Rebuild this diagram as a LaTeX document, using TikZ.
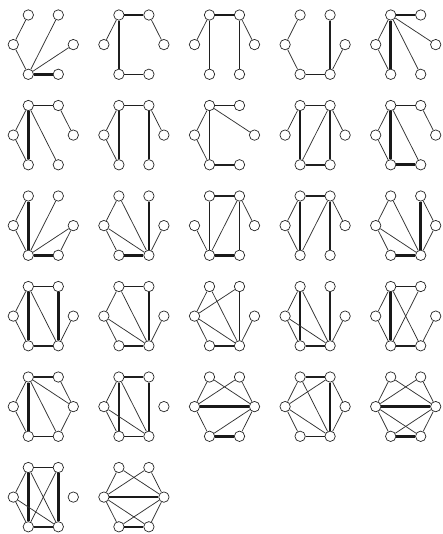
\documentclass[tikz,border=0pt]{standalone}
\begin{document}
\begin{tikzpicture}[x=1pt,y=-1pt,
  v/.style={circle,draw=black!85,fill=white,line width=0.7pt,minimum size=10.4pt,inner sep=0pt},
  tn/.style={draw=black!80,line width=0.75pt},
  md/.style={draw=black!88,line width=1.45pt},
  tk/.style={draw=black!90,line width=2.6pt}]
\useasboundingbox (0,0) rectangle (442,534);
\newcommand\hexg[3]{%
  \node[v] (#1a) at (#2,#3) {};
  \node[v] (#1b) at ({#2+30},#3) {};
  \node[v] (#1c) at ({#2-15},{#3+29.6}) {};
  \node[v] (#1d) at ({#2+45},{#3+29.6}) {};
  \node[v] (#1e) at (#2,{#3+59.3}) {};
  \node[v] (#1f) at ({#2+30},{#3+59.3}) {};}
% place all graphs
\foreach \r in {1,...,6}{
  \foreach \c in {1,...,5}{
    \pgfmathsetmacro\gx{28.3+90.6*(\c-1)}
    \pgfmathsetmacro\gy{15+90.5*(\r-1)}
    \ifnum\r=6 \ifnum\c>2 \else \hexg{g\r\c}{\gx}{\gy}\fi \else \hexg{g\r\c}{\gx}{\gy}\fi
  }}
\newcommand\E[4]{\path[#1] (#2#3) -- (#2#4);}
% Row 1
\E{tn}{g11}ac \E{tn}{g11}ce \E{tn}{g11}eb \E{tn}{g11}ed \E{tk}{g11}ef
\E{tk}{g12}ab \E{tn}{g12}ac \E{md}{g12}ae \E{tn}{g12}bd \E{md}{g12}ef
\E{tk}{g13}ab \E{tn}{g13}ac \E{md}{g13}ae \E{tn}{g13}bd \E{md}{g13}bf
\E{tn}{g14}ac \E{tn}{g14}ce \E{md}{g14}ef \E{md}{g14}bf \E{tn}{g14}df
\E{tk}{g15}ab \E{tn}{g15}ac \E{tn}{g15}ce \E{tk}{g15}ae \E{tn}{g15}ad \E{tn}{g15}af
% Row 2
\E{md}{g21}ab \E{tn}{g21}ac \E{tn}{g21}ce \E{tk}{g21}ae \E{tn}{g21}af \E{tn}{g21}bd
\E{md}{g22}ab \E{tn}{g22}ac \E{tn}{g22}ce \E{md}{g22}ae \E{tn}{g22}bd \E{tk}{g22}bf
\E{md}{g23}ab \E{tn}{g23}ac \E{tn}{g23}ce \E{md}{g23}ae \E{tn}{g23}ad \E{md}{g23}ef
\E{md}{g24}ab \E{tn}{g24}ac \E{tk}{g24}ae \E{tn}{g24}bd \E{tn}{g24}be \E{md}{g24}bf \E{md}{g24}ef
\E{md}{g25}ab \E{tn}{g25}ac \E{tn}{g25}ce \E{tk}{g25}ae \E{tn}{g25}af \E{tn}{g25}bd \E{tk}{g25}ef
% Row 3
\E{tn}{g31}ac \E{tn}{g31}ce \E{tk}{g31}ae \E{tn}{g31}be \E{tn}{g31}de \E{tn}{g31}df \E{tk}{g31}ef
\E{tn}{g32}ac \E{tn}{g32}ce \E{tn}{g32}af \E{tn}{g32}cf \E{tk}{g32}bf \E{tn}{g32}df \E{tk}{g32}ef
\E{md}{g33}ab \E{md}{g33}ae \E{tn}{g33}ce \E{tn}{g33}be \E{md}{g33}bf \E{tn}{g33}bd \E{tk}{g33}ef
\E{md}{g34}ab \E{tn}{g34}ac \E{tn}{g34}ce \E{tk}{g34}ae \E{tn}{g34}be \E{md}{g34}bf \E{tn}{g34}bd
\E{tn}{g35}ac \E{tn}{g35}ce \E{tn}{g35}af \E{tn}{g35}cf \E{tk}{g35}bf \E{tn}{g35}bd \E{tn}{g35}df \E{tk}{g35}ef
% Row 4
\E{md}{g41}ab \E{tn}{g41}ac \E{tn}{g41}ce \E{tk}{g41}ae \E{tn}{g41}af \E{tk}{g41}bf \E{tn}{g41}df \E{md}{g41}ef
\E{md}{g42}ab \E{tn}{g42}ac \E{tn}{g42}ce \E{tn}{g42}af \E{tn}{g42}cf \E{tk}{g42}bf \E{tn}{g42}df \E{md}{g42}ef
\E{tn}{g43}ac \E{tn}{g43}ce \E{tn}{g43}bc \E{tn}{g43}af \E{tn}{g43}cf \E{md}{g43}bf \E{tn}{g43}df \E{md}{g43}ef
\E{tn}{g44}ac \E{tn}{g44}ce \E{tk}{g44}ae \E{tn}{g44}af \E{tn}{g44}cf \E{md}{g44}bf \E{tn}{g44}df \E{md}{g44}ef
\E{md}{g45}ab \E{tn}{g45}ac \E{tn}{g45}ce \E{tk}{g45}ae \E{tn}{g45}af \E{tn}{g45}be \E{tn}{g45}df \E{md}{g45}ef
% Row 5
\E{md}{g51}ab \E{tn}{g51}ac \E{tn}{g51}ce \E{tk}{g51}ae \E{tn}{g51}ad \E{tn}{g51}af \E{tn}{g51}bd \E{tn}{g51}df \E{md}{g51}ef
\E{md}{g52}ab \E{tn}{g52}ac \E{tn}{g52}ce \E{md}{g52}ae \E{tn}{g52}af \E{tn}{g52}cf \E{tk}{g52}bf \E{md}{g52}ef
\E{tn}{g53}ac \E{tn}{g53}ad \E{tn}{g53}bc \E{tn}{g53}bd \E{tk}{g53}cd \E{tn}{g53}ce \E{tn}{g53}de \E{tn}{g53}df \E{tk}{g53}ef
\E{md}{g54}ab \E{tn}{g54}ac \E{tn}{g54}af \E{tn}{g54}bc \E{tn}{g54}cf \E{tn}{g54}ce \E{tk}{g54}bf \E{tn}{g54}bd \E{tn}{g54}df \E{md}{g54}ef
\E{tn}{g55}ac \E{tn}{g55}ad \E{tn}{g55}bc \E{tn}{g55}bd \E{tk}{g55}cd \E{tn}{g55}ce \E{tn}{g55}cf \E{tn}{g55}de \E{tn}{g55}df \E{tk}{g55}ef
% Row 6
\E{md}{g61}ab \E{tn}{g61}ac \E{tn}{g61}ce \E{tk}{g61}ae \E{tn}{g61}af \E{tn}{g61}cf \E{tn}{g61}be \E{tk}{g61}bf \E{md}{g61}ef
\E{tn}{g62}ac \E{tn}{g62}ad \E{tn}{g62}bc \E{tn}{g62}bd \E{tk}{g62}cd \E{tn}{g62}ce \E{tn}{g62}cf \E{tn}{g62}de \E{tn}{g62}df \E{tk}{g62}ef
\end{tikzpicture}
\end{document}
